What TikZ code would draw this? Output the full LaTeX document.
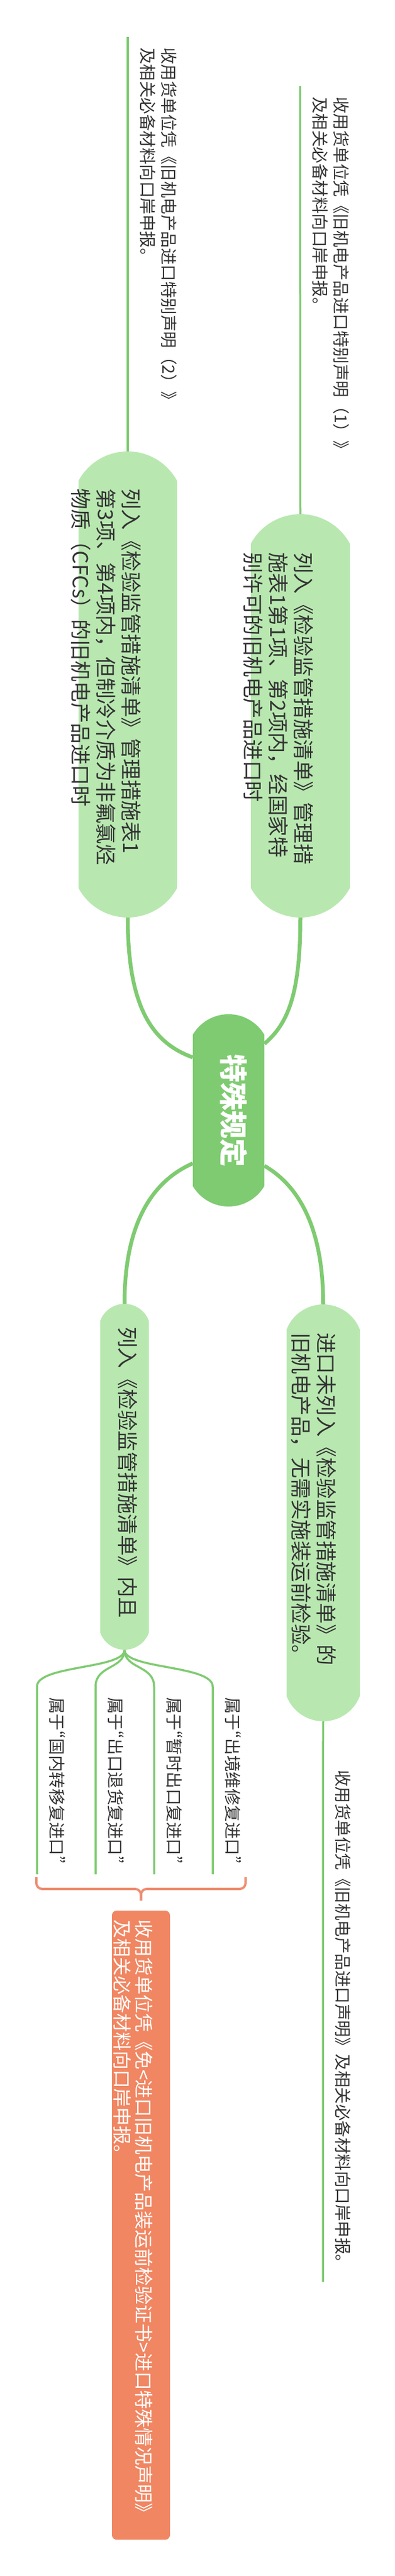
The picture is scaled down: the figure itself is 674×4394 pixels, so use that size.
\documentclass[tikz,border=0pt]{standalone}
\usepackage{fontspec}
\newfontfamily\cjk{Noto Sans CJK SC}
\newfontfamily\cjkq[RawFeature=+pwid]{Noto Sans CJK SC}
\newcommand\quoted[1]{{\cjkq“}#1{\cjkq”}}
\usetikzlibrary{shapes.misc,calc,backgrounds}
\definecolor{boxgreen}{HTML}{B8E8B0}
\definecolor{maingreen}{HTML}{7FCB71}
\definecolor{inkgray}{HTML}{333333}
\definecolor{sumorange}{HTML}{F08662}
\definecolor{braceorange}{HTML}{EE8D70}

\begin{document}
\begin{tikzpicture}[x=1pt,y=1pt,yscale=-1,
    greenbox/.style={rounded rectangle, rotate=-90, fill=boxgreen, text=inkgray, align=left,
      inner sep=2pt, text depth=15pt, font=\cjk\fontsize{35.5}{43}\selectfont},
    hub/.style={rounded rectangle, rotate=-90, fill=maingreen, text=white, inner sep=2pt,
      text depth=22pt, font=\cjk\bfseries\fontsize{48}{56}\selectfont},
    leaf/.style={rotate=-90, anchor=south west, text=inkgray, align=left,
      inner xsep=18pt, inner ysep=21pt, font=\cjk\fontsize{28.5}{36}\selectfont},
    sumbox/.style={rectangle, rounded corners=8pt, rotate=-90, fill=sumorange, text=white, align=left,
      inner sep=2pt, text depth=13pt, font=\cjk\fontsize{32}{37}\selectfont},
    trunk/.style={maingreen, line width=6.5pt},
    twig/.style={maingreen, line width=3.5pt},
    bracket/.style={braceorange, line width=4pt, rounded corners=10pt}]

\useasboundingbox (0,0) rectangle (674,4394);

% main topics
\node[greenbox, rounded rectangle arc length=123, minimum width=799pt, minimum height=168pt, text width=669pt] (lbox) at (218,1167.5)
  {列入《检验监管措施清单》管理措施表1\\第3项、第4项内，但制冷介质为非氟氯烃\\物质（CFCs）的旧机电产品进口时};
\node[greenbox, rounded rectangle arc length=123, minimum width=692pt, minimum height=169pt, text width=558pt] (rbox) at (512.5,1221)
  {列入《检验监管措施清单》管理措\\施表1第1项、第2项内，经国家特\\别许可的旧机电产品进口时};
\node[hub, rounded rectangle arc length=119, minimum width=332pt, minimum height=122pt] (spec) at (390,1894) {特殊规定};
\node[greenbox, rounded rectangle arc length=140, minimum width=594pt, minimum height=83pt, text width=512pt] (lcond) at (212.5,2519)
  {列入《检验监管措施清单》内且};
\node[greenbox, rounded rectangle arc length=138, minimum width=715pt, minimum height=125pt, text width=615pt] (rcond) at (551.5,2580.5)
  {进口未列入《检验监管措施清单》的\\旧机电产品，无需实施装运前检验。};

% leaves
\node[leaf] (decl2) at (218,63) {收用货单位凭《旧机电产品进口特别声明（2）》\\及相关必备材料向口岸申报。};
\node[leaf] (decl1) at (512,147) {收用货单位凭《旧机电产品进口特别声明（1）》\\及相关必备材料向口岸申报。};
\node[leaf] (decl0) at (551,3001) {收用货单位凭《旧机电产品进口声明》及相关必备材料向口岸申报。};
\foreach \n/\x/\t in {gnzy/63/国内转移复进口, cktf/163/出口退货复进口, zscf/263/暂时出口复进口, cjwx/363/出境维修复进口}
  \node[leaf] (\n) at (\x,2877) {属于\quoted{\t}};

% summary
\node[sumbox, minimum width=1073pt, minimum height=99pt, text width=1043pt] (exempt) at (240.5,3795.5)
  {收用货单位凭《免<进口旧机电产品装运前检验证书>进口特殊情况声明》\\及相关必备材料向口岸申报。};
\coordinate (brace-l) at (62,3202);
\coordinate (brace-r) at (419,3202);
\coordinate (brace-m) at (240.5,3222);
\coordinate (brace-t) at ($(exempt.west)+(0,-17)$);
\draw[bracket] (brace-l) -- (brace-l |- brace-m) -- (brace-m) -- (brace-t);
\draw[bracket] (brace-r) -- (brace-r |- brace-m) -- (brace-m) -- (brace-t);

\begin{pgfonlayer}{background}
  \draw[trunk] ($(spec.south west)!0.15!(spec.south east)$) .. controls +(-69,-25) and +(0,153) .. (lbox.east);
  \draw[trunk] ($(spec.north west)!0.06!(spec.north east)$) .. controls +(39,-33) and +(0,133) .. (rbox.east);
  \draw[trunk] ($(spec.south west)!0.85!(spec.south east)$) .. controls +(-79,35) and +(0,-122) .. (lcond.west);
  \draw[trunk] ($(spec.north west)!0.866!(spec.north east)$) .. controls +(69,40) and +(0,-113) .. (rcond.west);
  \draw[twig] (lbox.west) -- (decl2.south west);
  \draw[twig] (rbox.west) -- (decl1.south west);
  \draw[twig] (rcond.east) -- (decl0.south west) -- (decl0.south east);
  \foreach \n in {gnzy,cktf,zscf,cjwx}
    \draw[twig] (lcond.east) .. controls +(0,33) and +(0,-37) .. (\n.south west) -- (\n.south east);
\end{pgfonlayer}
\end{tikzpicture}
\end{document}
